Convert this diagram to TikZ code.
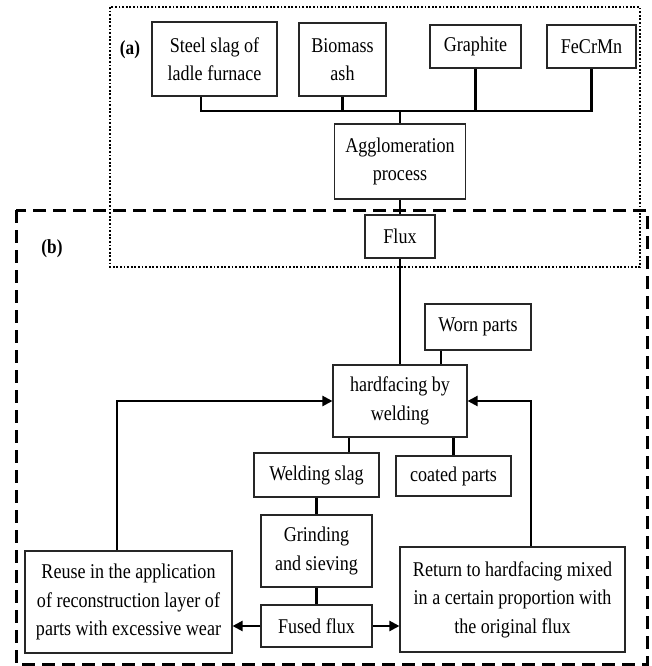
\documentclass[tikz,border=0pt]{standalone}
\usepackage{fontspec}
\setmainfont{Liberation Serif}[FakeStretch=0.86]
\usetikzlibrary{arrows.meta,calc}
\begin{document}
\begin{tikzpicture}[x=1pt,y=-1pt,
  box/.style={draw=black!85,line width=1.1pt,fill=white,align=center,inner sep=0pt,
    font=\fontsize{21}{28.5}\selectfont},
  conn/.style={line width=2.2pt,black},
  arr/.style={conn,-{Triangle[length=10pt,width=10pt]}},
  tag/.style={font=\bfseries\fontsize{20}{24}\selectfont},
  dotbox/.style={line width=2pt,dash pattern=on 1.8pt off 1.8pt},
  dashbox/.style={line width=3pt,dash pattern=on 13pt off 7pt},
  ]
\useasboundingbox (0,0) rectangle (651,666);
% frames
\draw[dotbox] (110,7) rectangle (640,267);
\draw[dashbox] (16,210) rectangle (647,664);
\node[tag] (la) at (130,50) {(a)};
\node[tag] (lb) at (52,249) {(b)};
% nodes
\node[box,minimum width=125pt,minimum height=74pt] (steel) at (214.5,59) {Steel slag of\\ladle furnace};
\node[box,minimum width=87pt,minimum height=73pt] (biomass) at (342.5,59.5) {Biomass\\ash};
\node[box,minimum width=91pt,minimum height=43pt] (graphite) at (475.5,46.5) {Graphite};
\node[box,minimum width=89pt,minimum height=43pt] (fecrmn) at (591.5,46.5) {FeCrMn};
\node[box,minimum width=131pt,minimum height=75pt] (agglo) at (400,161.5) {Agglomeration\\process};
\node[box,minimum width=70pt,minimum height=43pt] (flux) at (400,236.5) {Flux};
\node[box,minimum width=106pt,minimum height=46pt] (worn) at (478,327) {Worn parts};
\node[box,minimum width=134pt,minimum height=72pt] (hard) at (400,401) {hardfacing by\\welding};
\node[box,minimum width=125pt,minimum height=44pt] (wslag) at (316.5,475) {Welding slag};
\node[box,minimum width=115pt,minimum height=40pt] (coated) at (453.5,476) {coated parts};
\node[box,minimum width=111pt,minimum height=72pt] (grind) at (316.5,551) {Grinding\\and sieving};
\node[box,minimum width=111pt,minimum height=42pt] (fused) at (316.5,626) {Fused flux};
\node[box,minimum width=207pt,minimum height=102pt] (reuse) at (128.5,602) {Reuse in the application\\of reconstruction layer of\\parts with excessive wear};
\node[box,minimum width=225pt,minimum height=105pt] (return) at (512.5,599.5) {Return to hardfacing mixed\\in a certain proportion with\\the original flux};
% connectors
\coordinate (bus) at (400,111);
\draw[conn] ([xshift=-13.5pt]steel.south) |- (bus) -| (fecrmn.south);
\draw[conn] (biomass.south) -- (biomass.south |- bus);
\draw[conn] (graphite.south) -- (graphite.south |- bus);
\draw[conn] (bus) -- (agglo.north);
\draw[conn] (agglo.south) -- (flux.north);
\draw[conn] (flux.south) -- (hard.north);
\draw[conn] ([xshift=-37pt]worn.south) -- ([xshift=-37pt]worn.south |- hard.north);
\draw[conn] ([xshift=32.5pt]wslag.north) -- ([xshift=32.5pt]wslag.north |- hard.south);
\draw[conn] (coated.north) -- (coated.north |- hard.south);
\draw[conn] (wslag.south) -- (grind.north);
\draw[conn] (grind.south) -- (fused.north);
\draw[arr] ([xshift=-11.5pt]reuse.north) |- (hard.west);
\draw[arr] ([xshift=18.5pt]return.north) |- (hard.east);
\draw[arr] (fused.west) -- (fused.west -| reuse.east);
\draw[arr] (fused.east) -- (fused.east -| return.west);
\end{tikzpicture}
\end{document}
